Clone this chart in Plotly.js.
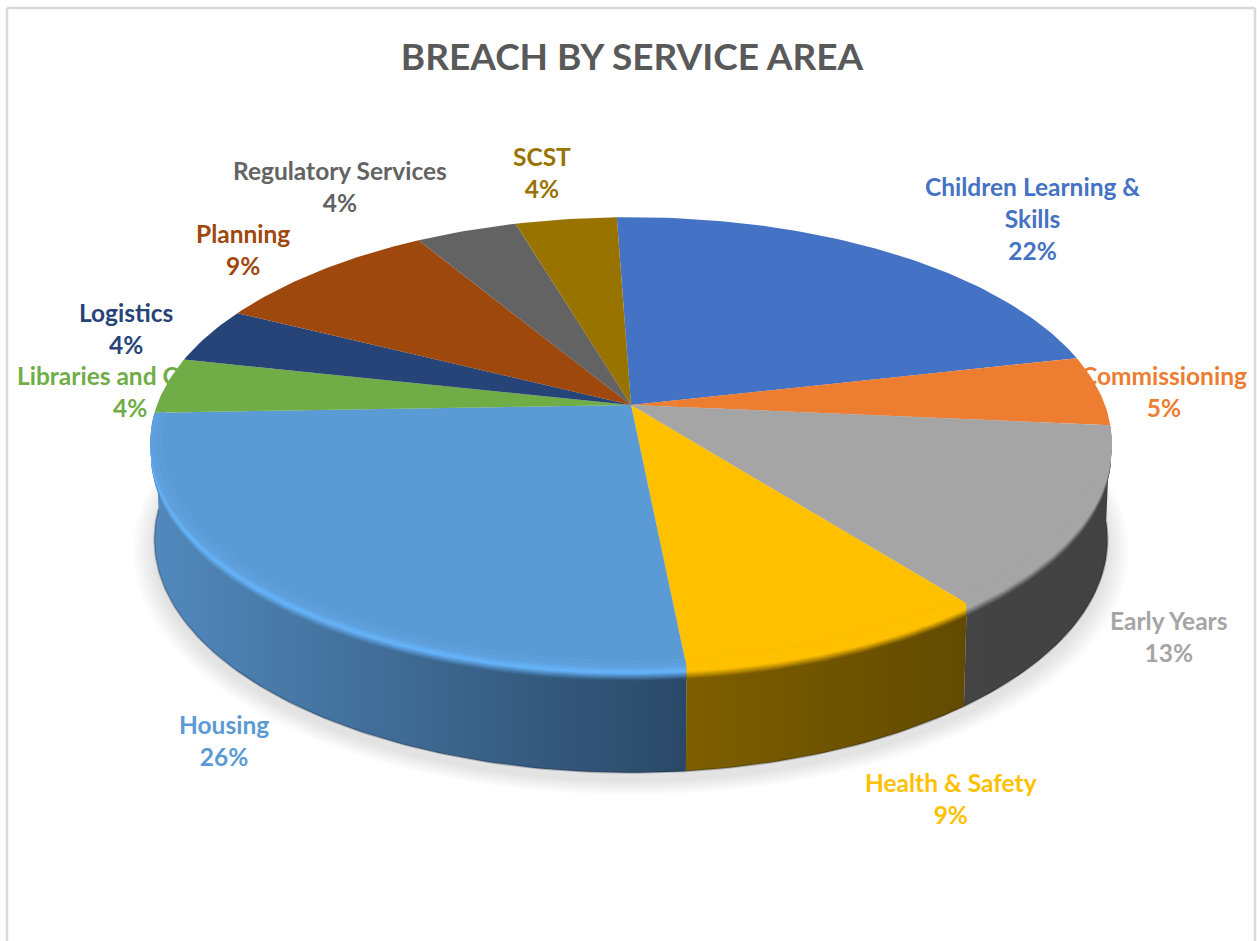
<!DOCTYPE html>
<html>
<head>
<meta charset="utf-8">
<script src="https://cdn.plot.ly/plotly-3.0.1.min.js"></script>
<style>html,body{margin:0;padding:0;background:#fff;overflow:hidden}#chart{width:1257px;height:941px}</style>
</head>
<body>
<div id="chart"></div>
<script>
// Breaches per service area, in percent
const serviceAreas = ["Children Learning &<br>Skills", "Commissioning", "Early Years", "Health & Safety", "Housing",
  "Libraries and Culture", "Logistics", "Planning", "Regulatory Services", "SCST"];
const breachPercent = [22, 5, 13, 9, 26, 4, 4, 9, 4, 4];
const sliceColors = ["#4472C4", "#ED7D31", "#A5A5A5", "#FFC000", "#5B9BD5", "#70AD47", "#264478", "#9E480E", "#636363", "#997300"];
const chartTitle = "BREACH BY SERVICE AREA";

// Shading of the pie's outer wall: [left colour, right colour, rim highlight]; only front slices show a wall
const wallShades = {
  2: ["#444444", "#424242", "#A5A5A5"],
  3: ["#7d5e00", "#624b00", "#FFC000"],
  4: ["#5289bd", "#2a4866", "#66b4fb"]
};

// Where each label block is centred on the page
const labelAnchors = [[1032, 218], [1164, 391], [1168, 636], [951, 798], [224, 740],
  [130, 391], [126, 328], [243, 249], [340, 186], [542, 172]];

// Tilted disc geometry: the top face and the base share one perspective strength
const PERSPECTIVE = 0.166;
const topFace = {cx: 631, cy: 405, A: 474, B: 219};
const baseFace = {cx: 631, cy: 501, A: 470, B: 226.6};
const FIRST_SLICE_DEG = -2;

function project(face, deg, r) {
  const t = deg * Math.PI / 180, u = r * Math.sin(t), v = r * Math.cos(t), w = 1 + PERSPECTIVE * v;
  return [face.cx + face.A * u / w, face.cy - face.B * v / w];
}
// s < 0 runs inward across the top face, s >= 0 runs down the wall
function surfacePoint(deg, s) {
  if (s < 0) return project(topFace, deg, 1 + s);
  const a = project(topFace, deg, 1), b = project(baseFace, deg, 1);
  return [a[0] + (b[0] - a[0]) * s, a[1] + (b[1] - a[1]) * s];
}
function arcDegrees(a, b) {
  const out = [], n = Math.max(2, Math.ceil(Math.abs(b - a)));
  for (let i = 0; i <= n; i++) out.push(a + (b - a) * i / n);
  return out;
}
function hexToRgb(h) {
  return [1, 3, 5].map(i => parseInt(h.slice(i, i + 2), 16));
}
function mix(c1, c2, t) {
  const a = hexToRgb(c1), b = hexToRgb(c2);
  return "#" + a.map((v, i) => Math.round(v + (b[i] - v) * t).toString(16).padStart(2, "0")).join("");
}
function polyTrace(pts, extra) {
  return Object.assign({
    type: "scatter", mode: "lines", x: pts.map(p => p[0]), y: pts.map(p => p[1]),
    fill: "toself", line: {width: 0}, hoverinfo: "skip", showlegend: false
  }, extra);
}
function band(a, b, s0, s1) {
  const degs = arcDegrees(a, b);
  return degs.map(d => surfacePoint(d, s0)).concat(degs.slice().reverse().map(d => surfacePoint(d, s1)));
}

const traces = [];

// Soft drop shadow under the base
const SHADOW_RINGS = 14;
for (let i = SHADOW_RINGS; i >= 1; i--) {
  const r = 1 + 0.045 * i / SHADOW_RINGS;
  const pts = arcDegrees(0, 360).map(d => {
    const p = project(baseFace, d, r);
    return [p[0], p[1] + 8];
  });
  traces.push(polyTrace(pts, {fillcolor: "rgba(0,0,0,0.0085)"}));
}

// Slice boundaries in degrees, clockwise from twelve o'clock
const total = breachPercent.reduce((s, v) => s + v, 0);
const bounds = [FIRST_SLICE_DEG];
breachPercent.forEach(v => bounds.push(bounds[bounds.length - 1] + v / total * 360));

// Outer walls
const walled = Object.keys(wallShades).map(Number);
walled.forEach(i => {
  const [left, right] = wallShades[i], a = bounds[i], b = bounds[i + 1];
  traces.push(polyTrace(band(a, b, 0, 1), {
    fillgradient: {type: "horizontal", colorscale: [[0, left], [1, right]]}
  }));
  const edge = arcDegrees(a, b).map(d => surfacePoint(d, 1));
  traces.push({type: "scatter", mode: "lines", x: edge.map(p => p[0]), y: edge.map(p => p[1]),
    line: {width: 2, color: "rgba(10,20,40,0.25)"}, hoverinfo: "skip", showlegend: false});
});

// Top face of the pie
breachPercent.forEach((v, i) => {
  const pts = [project(topFace, 0, 0)]
    .concat(arcDegrees(bounds[i], bounds[i + 1]).map(d => project(topFace, d, 1)));
  pts.push(project(topFace, 0, 0));
  traces.push(polyTrace(pts, {fillcolor: sliceColors[i]}));
});

// Rounded rim, painted from its widest step inward so no seams show
const RIM_STEPS = 14, RIM_INNER = -0.022, RIM_OUTER = 0.125;
walled.forEach(i => {
  const [left, right, glow] = wallShades[i], a = bounds[i], b = bounds[i + 1], top = sliceColors[i];
  for (let j = RIM_STEPS; j >= 1; j--) {
    const t = (j - 0.5) / RIM_STEPS;
    const paint = w => t > 0.5 ? mix(glow, w, (t - 0.5) * 2) : mix(top, glow, t * 2);
    traces.push(polyTrace(band(a, b, RIM_INNER, RIM_INNER + (RIM_OUTER - RIM_INNER) * j / RIM_STEPS), {
      fillgradient: {type: "horizontal", colorscale: [[0, paint(left)], [1, paint(right)]]}
    }));
  }
});

const annotations = serviceAreas.map((name, i) => ({
  xref: "x", yref: "y", x: labelAnchors[i][0], y: labelAnchors[i][1],
  xanchor: "center", yanchor: "middle", showarrow: false, align: "center",
  text: name + "<br>" + breachPercent[i] + "%",
  font: {family: "Lato, 'Open Sans', sans-serif", size: 24.5, weight: 700, color: sliceColors[i]}
}));

const frame = [[7, 941, 7, 8], [7, 8, 1255, 8], [1255, 8, 1255, 941]].map(s => ({
  type: "line", xref: "x", yref: "y", x0: s[0], y0: s[1], x1: s[2], y1: s[3],
  line: {color: "#d9d9d9", width: 2.5}, layer: "above"
}));

Plotly.newPlot("chart", traces, {
  width: 1257, height: 941,
  margin: {l: 0, r: 0, t: 0, b: 0},
  paper_bgcolor: "#ffffff", plot_bgcolor: "#ffffff",
  showlegend: false,
  title: {
    text: chartTitle, x: 632 / 1257, xanchor: "center", y: 1 - 57 / 941, yanchor: "middle",
    font: {family: "Lato, 'Open Sans', sans-serif", size: 37, weight: 700, color: "#595959"}
  },
  xaxis: {visible: false, range: [0, 1257], fixedrange: true},
  yaxis: {visible: false, range: [941, 0], fixedrange: true},
  annotations: annotations,
  shapes: frame
}, {displayModeBar: false, staticPlot: true});
</script>
</body>
</html>
